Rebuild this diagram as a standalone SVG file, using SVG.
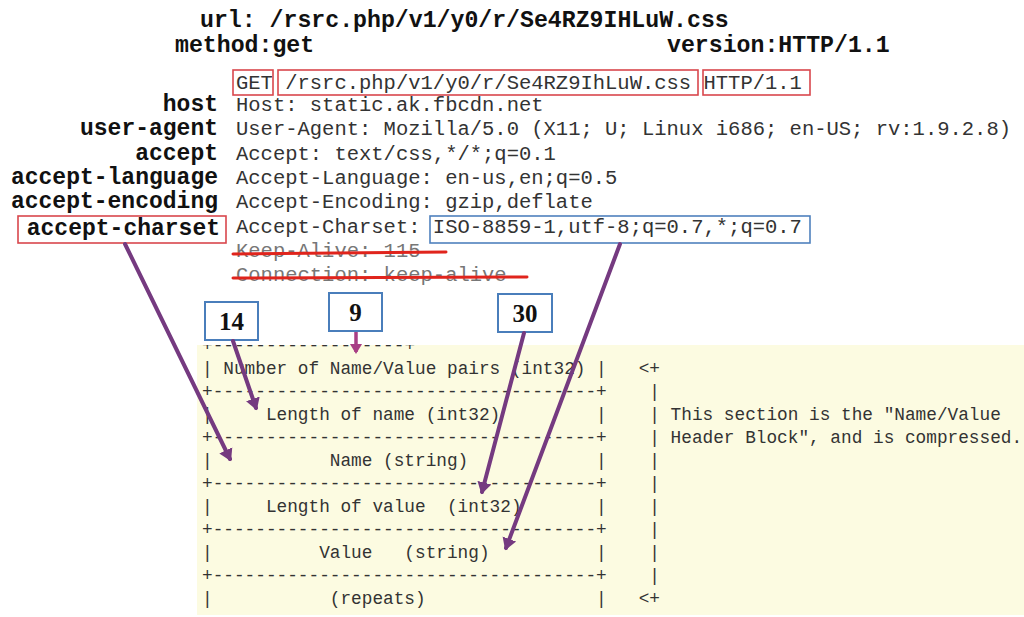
<svg xmlns="http://www.w3.org/2000/svg" width="1024" height="617" viewBox="0 0 1024 617">
<style>
.hd{font-family:"Liberation Mono","DejaVu Sans Mono",monospace;font-weight:bold;font-size:23.2px;fill:#111}
.lb{font-family:"Liberation Mono","DejaVu Sans Mono",monospace;font-weight:bold;font-size:23px;fill:#111;text-anchor:end}
.rq{font-family:"Liberation Mono","DejaVu Sans Mono",monospace;font-size:20.5px;fill:#333;white-space:pre}
.st{fill:#777}
.tb{font-family:"Liberation Mono","DejaVu Sans Mono",monospace;font-size:17.75px;fill:#333;white-space:pre}
.rbox{fill:none;stroke:#d9474d;stroke-width:1.6}
.bbox{fill:none;stroke:#4f81bd;stroke-width:1.6}
.strike{stroke:#e0241c;stroke-width:3;stroke-linecap:round}
.nbox{fill:#fff;stroke:#4a7ebb;stroke-width:2}
.num{font-family:"Liberation Serif","Times New Roman",serif;font-weight:bold;font-size:25px;fill:#111;text-anchor:middle}
.arr{stroke:#753a80;stroke-width:4;fill:none;stroke-linecap:round}
.arr9{stroke:#a83e85;stroke-width:3.5;fill:none}
</style>
<defs>
<marker id="ah" markerWidth="4" markerHeight="4" refX="2.4" refY="2" orient="auto" markerUnits="strokeWidth">
<path d="M0,0.2 L3,2 L0,3.8 Z" fill="#753a80"/>
</marker>
<marker id="ah9" markerWidth="4" markerHeight="4" refX="2.4" refY="2" orient="auto" markerUnits="strokeWidth">
<path d="M0,0.2 L3,2 L0,3.8 Z" fill="#a83e85"/>
</marker>
<clipPath id="topclip"><rect x="190" y="345" width="260" height="20"/></clipPath>
</defs>
<rect width="1024" height="617" fill="#fff"/>

<g id="title">
<text class="hd" x="200" y="27">url: /rsrc.php/v1/y0/r/Se4RZ9IHLuW.css</text>
<text class="hd" x="175" y="52">method:get</text>
<text class="hd" x="667" y="52">version:HTTP/1.1</text>
</g>

<g id="request">
<text class="rq" x="236" y="89">GET /rsrc.php/v1/y0/r/Se4RZ9IhLuW.css HTTP/1.1</text>
<rect class="rbox" x="233" y="70" width="40" height="25"/>
<rect class="rbox" x="278" y="70" width="420" height="25"/>
<rect class="rbox" x="703" y="70" width="107" height="25"/>
<text class="rq" x="236" y="111">Host: static.ak.fbcdn.net</text>
<text class="rq" x="236" y="135">User-Agent: Mozilla/5.0 (X11; U; Linux i686; en-US; rv:1.9.2.8)</text>
<text class="rq" x="236" y="160">Accept: text/css,*/*;q=0.1</text>
<text class="rq" x="236" y="184">Accept-Language: en-us,en;q=0.5</text>
<text class="rq" x="236" y="208">Accept-Encoding: gzip,deflate</text>
<text class="rq" x="236" y="233">Accept-Charset: ISO-8859-1,utf-8;q=0.7,*;q=0.7</text>
<rect class="bbox" x="430" y="216" width="380" height="27"/>
<text class="rq st" x="236" y="257">Keep-Alive: 115</text>
<text class="rq st" x="236" y="281">Connection: keep-alive</text>
<line class="strike" x1="233" y1="254" x2="446" y2="252"/>
<line class="strike" x1="233" y1="278" x2="527" y2="277"/>
</g>

<g id="labels">
<text class="lb" x="218" y="111">host</text>
<text class="lb" x="218" y="135">user-agent</text>
<text class="lb" x="218" y="160">accept</text>
<text class="lb" x="218" y="184">accept-language</text>
<text class="lb" x="218" y="208">accept-encoding</text>
<text class="lb" x="220" y="235">accept-charset</text>
<rect class="rbox" x="18" y="216" width="208" height="27"/>
</g>

<g id="table">
<rect x="197" y="345" width="827" height="270" fill="#fcfbe1"/>
<text class="tb" x="202" y="351" clip-path="url(#topclip)">+------------------+</text>
<text class="tb" x="202" y="374">|</text><text class="tb" x="223.3" y="374">Number of Name/Value pairs (int32)</text><text class="tb" x="596.05" y="374">|</text><text class="tb" x="638.65" y="374">&lt;+</text>
<text class="tb" x="202" y="397">+------------------------------------+</text><text class="tb" x="649.3" y="397">|</text>
<text class="tb" x="202" y="420">|</text><text class="tb" x="265.9" y="420">Length of name (int32)</text><text class="tb" x="596.05" y="420">|</text><text class="tb" x="649.3" y="420">|</text><text class="tb" x="670.6" y="420">This section is the "Name/Value</text>
<text class="tb" x="202" y="443">+------------------------------------+</text><text class="tb" x="649.3" y="443">|</text><text class="tb" x="670.6" y="443">Header Block", and is compressed.</text>
<text class="tb" x="202" y="466">|</text><text class="tb" x="329.8" y="466">Name (string)</text><text class="tb" x="596.05" y="466">|</text><text class="tb" x="649.3" y="466">|</text>
<text class="tb" x="202" y="489">+------------------------------------+</text><text class="tb" x="649.3" y="489">|</text>
<text class="tb" x="202" y="512">|</text><text class="tb" x="265.9" y="512">Length of value  (int32)</text><text class="tb" x="596.05" y="512">|</text><text class="tb" x="649.3" y="512">|</text>
<text class="tb" x="202" y="535">+------------------------------------+</text><text class="tb" x="649.3" y="535">|</text>
<text class="tb" x="202" y="558">|</text><text class="tb" x="319.15" y="558">Value   (string)</text><text class="tb" x="596.05" y="558">|</text><text class="tb" x="649.3" y="558">|</text>
<text class="tb" x="202" y="581">+------------------------------------+</text><text class="tb" x="649.3" y="581">|</text>
<text class="tb" x="202" y="604">|</text><text class="tb" x="329.8" y="604">(repeats)</text><text class="tb" x="596.05" y="604">|</text><text class="tb" x="638.65" y="604">&lt;+</text>
</g>

<g id="n14"><rect class="nbox" x="205" y="302" width="53" height="38"/><text class="num" x="231.5" y="330">14</text></g>
<g id="n9"><rect class="nbox" x="329" y="293" width="53" height="38"/><text class="num" x="355.5" y="321">9</text></g>
<g id="n30"><rect class="nbox" x="498" y="294" width="54" height="38"/><text class="num" x="525" y="322">30</text></g>

<g id="connectors">
<line class="arr9" x1="356" y1="332" x2="356" y2="352" marker-end="url(#ah9)"/>
<line class="arr" x1="233" y1="341" x2="256" y2="408" marker-end="url(#ah)"/>
<line class="arr" x1="125" y1="244" x2="230" y2="459" marker-end="url(#ah)"/>
<line class="arr" x1="524" y1="333" x2="482" y2="492" marker-end="url(#ah)"/>
<line class="arr" x1="620" y1="244" x2="506" y2="548" marker-end="url(#ah)"/>
</g>
</svg>
